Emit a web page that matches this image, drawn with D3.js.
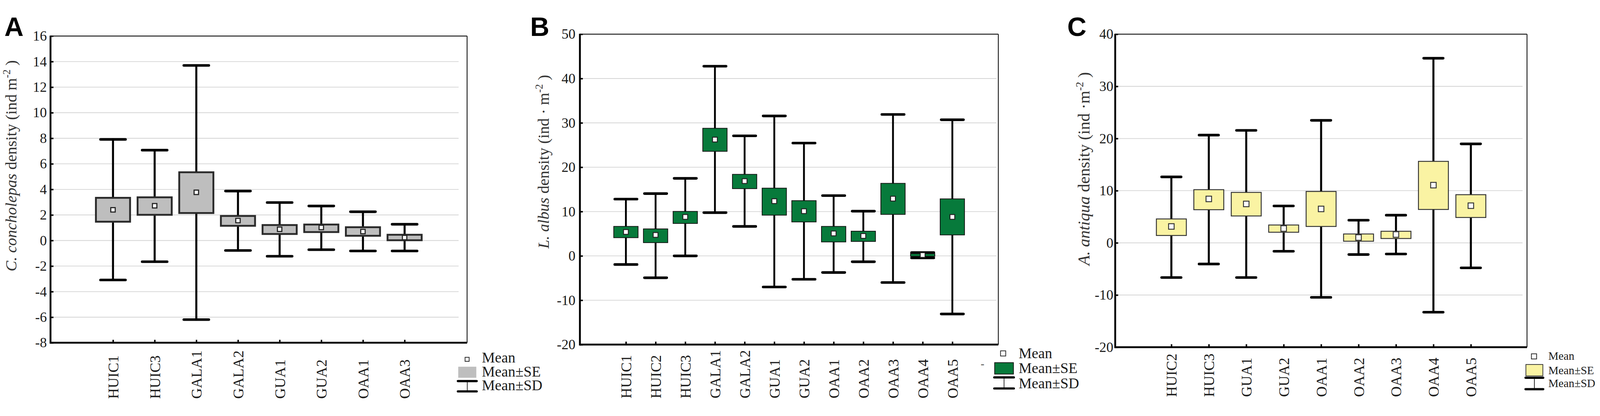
<!DOCTYPE html>
<html>
<head>
<meta charset="utf-8">
<script src="https://cdn.jsdelivr.net/npm/d3@7"></script>
<style>
  html, body { margin: 0; padding: 0; background: #fff; overflow: hidden; width: 100%; height: 100%; }
  svg { display: block; width: 100vw; height: 100vh; }
  text { font-family: "Liberation Serif", "Times New Roman", serif; }
</style>
</head>
<body>
<svg id="chart" viewBox="0 0 4340 1065" preserveAspectRatio="xMidYMid meet"></svg>
<script>
// panel A - C. concholepas
const catsA = ['HUIC1', 'HUIC3', 'GALA1', 'GALA2', 'GUA1', 'GUA2', 'OAA1', 'OAA3']
const meanA = [2.40, 2.72, 3.77, 1.56, 0.88, 1.02, 0.70, 0.23]
const seLoA = [1.47, 2.01, 2.15, 1.15, 0.51, 0.66, 0.37, 0.02]
const seHiA = [3.34, 3.38, 5.34, 1.92, 1.21, 1.25, 1.04, 0.45]
const sdLoA = [-3.09, -1.66, -6.19, -0.78, -1.23, -0.72, -0.82, -0.82]
const sdHiA = [7.91, 7.07, 13.70, 3.87, 2.97, 2.70, 2.25, 1.27]
const ticksA = [-8, -6, -4, -2, 0, 2, 4, 6, 8, 10, 12, 14, 16]

// panel B - L. albus
const catsB = ['HUIC1', 'HUIC2', 'HUIC3', 'GALA1', 'GALA2', 'GUA1', 'GUA2', 'OAA1', 'OAA2', 'OAA3', 'OAA4', 'OAA5']
const meanB = [5.40, 4.73, 8.79, 26.23, 16.87, 12.35, 10.09, 5.07, 4.50, 12.91, 0.20, 8.79]
const seLoB = [4.11, 2.99, 7.32, 23.58, 15.17, 9.19, 7.66, 3.15, 3.26, 9.36, -0.10, 4.73]
const seHiB = [6.65, 6.09, 10.03, 28.78, 18.39, 15.28, 12.46, 6.65, 5.57, 16.36, 0.50, 12.86]
const sdLoB = [-1.94, -4.93, 0.00, 9.76, 6.65, -7.02, -5.27, -3.74, -1.32, -6.00, -0.45, -13.10]
const sdHiB = [12.80, 14.05, 17.49, 42.78, 27.08, 31.56, 25.45, 13.60, 10.09, 31.90, 0.75, 30.70]
const ticksB = [-20, -10, 0, 10, 20, 30, 40, 50]

// panel C - A. antiqua
const catsC = ['HUIC2', 'HUIC3', 'GUA1', 'GUA2', 'OAA1', 'OAA2', 'OAA3', 'OAA4', 'OAA5']
const meanC = [3.14, 8.42, 7.46, 2.75, 6.50, 1.02, 1.60, 11.06, 7.12]
const seLoC = [1.41, 6.35, 5.15, 2.03, 3.14, 0.31, 0.83, 6.40, 4.86]
const seHiC = [4.58, 10.19, 9.67, 3.42, 9.85, 1.70, 2.22, 15.62, 9.23]
const sdLoC = [-6.65, -4.06, -6.65, -1.62, -10.45, -2.24, -2.14, -13.30, -4.80]
const sdHiC = [12.64, 20.65, 21.56, 7.07, 23.48, 4.34, 5.30, 35.39, 18.97]
const ticksC = [-20, -10, 0, 10, 20, 30, 40]

const legendLabels = ['Mean', 'Mean±SE', 'Mean±SD']

const svg = d3.select('#chart')

drawPanel({
  letter: 'A', letterX: 12, letterY: 66,
  cats: catsA, mean: meanA, seLo: seLoA, seHi: seHiA, sdLo: sdLoA, sdHi: sdHiA, ticks: ticksA,
  left: 137, right: 1267, top: 66, bottom: 898, pad: 1.5, gridEnd: 23, tickPad: 10,
  boxW: 0.82, capW: 0.6, meanSize: 12, whisker: 5.5, capH: 7,
  fill: '#bebebe', boxStroke: '#2a2a2a', boxStrokeW: 5, meanStroke: '#222', meanStrokeW: 3,
  labelBottom: 1050,
  yLabel: { x: 30, y: 418, size: 43, species: 'C. concholepas', rest: ' density (ind  m', sup: '-2', end: ' )' },
  legend: { sx: 1267, sy: 943, ss: 11, bx: 1243, by: 963, bw: 49, bh: 30, bStroke: 'none',
    t1: 1002, t2: 1030, tx: 1307, ty: [952, 990, 1027], size: 40 }
})

drawPanel({
  letter: 'B', letterX: 1438, letterY: 66,
  cats: catsB, mean: meanB, seLo: seLoB, seHi: seHiB, sdLo: sdLoB, sdHi: sdHiB, ticks: ticksB,
  left: 1573, right: 2708, top: 61, bottom: 903, pad: 1.55, gridEnd: 5, tickPad: 12,
  boxW: 0.82, capW: 0.75, meanSize: 13, whisker: 5, capH: 7,
  fill: '#077a3b', boxStroke: '#111', boxStrokeW: 2, meanStroke: '#222', meanStrokeW: 2.5,
  labelBottom: 1049,
  yLabel: { x: 1474, y: 407, size: 43, species: 'L. albus', rest: ' density (ind · m', sup: '-2', end: ' )' },
  legend: { sx: 2721, sy: 927, ss: 14, bx: 2698, by: 952, bw: 51, bh: 31, bStroke: '#111',
    t1: 992, t2: 1022, tx: 2763, ty: [940, 980, 1021], size: 40, dash: true }
})

drawPanel({
  letter: 'C', letterX: 2895, letterY: 66,
  cats: catsC, mean: meanC, seLo: seLoC, seHi: seHiC, sdLo: sdLoC, sdHi: sdHiC, ticks: ticksC,
  left: 3025, right: 4142, top: 61, bottom: 910, pad: 1.5, gridEnd: 12, tickPad: 5,
  boxW: 0.8, capW: 0.52, meanSize: 15, whisker: 5.5, capH: 7,
  fill: '#faf3a3', boxStroke: '#333', boxStrokeW: 2.5, meanStroke: '#333', meanStrokeW: 2.5,
  labelBottom: 1045,
  yLabel: { x: 2940, y: 426, size: 45, species: 'A. antiqua', rest: ' density (ind ·m', sup: '-2', end: ' )' },
  legend: { sx: 4161, sy: 935, ss: 14, bx: 4139, by: 957, bw: 46, bh: 31, bStroke: '#333',
    t1: 993, t2: 1024, tx: 4200, ty: [944, 983, 1018], size: 31 }
})

function drawPanel(p) {
  const g = svg.append('g')
  const x = d3.scalePoint().domain(p.cats).range([p.left, p.right]).padding(p.pad)
  const y = d3.scaleLinear().domain([p.ticks[0], p.ticks[p.ticks.length - 1]]).range([p.bottom, p.top])
  const step = x.step()

  // gridlines (not on the top and bottom frame)
  g.append('g')
    .selectAll('line')
    .data(p.ticks.slice(1, -1))
    .join('line')
    .attr('x1', p.left)
    .attr('x2', p.right - p.gridEnd)
    .attr('y1', (d) => y(d))
    .attr('y2', (d) => y(d))
    .attr('stroke', '#d4d4d4')
    .attr('stroke-width', 2)

  // y axis ticks and labels
  const ya = g.append('g')
    .attr('transform', `translate(${p.left},0)`)
    .call(d3.axisLeft(y).tickValues(p.ticks).tickSize(-8).tickPadding(p.tickPad).tickFormat((d) => String(d)))
  ya.select('.domain').remove()
  ya.selectAll('.tick line').attr('stroke', '#000').attr('stroke-width', 4)
  ya.selectAll('.tick text')
    .attr('fill', '#1a1a1a')
    .style('font-size', '38px')
    .style('font-family', '"Liberation Serif", serif')

  // x axis ticks and rotated labels
  const xa = g.append('g')
    .attr('transform', `translate(0,${p.bottom})`)
    .call(d3.axisBottom(x).tickSize(-8))
  xa.select('.domain').remove()
  xa.selectAll('.tick line').attr('stroke', '#000').attr('stroke-width', 4)
  xa.selectAll('.tick text')
    .attr('transform', 'rotate(-90)')
    .attr('x', -(p.labelBottom - p.bottom))
    .attr('y', 0)
    .attr('dy', '0.35em')
    .attr('fill', '#1a1a1a')
    .style('text-anchor', 'start')
    .style('font-size', '40px')
    .style('font-family', '"Liberation Serif", serif')

  // frame
  g.append('line').attr('x1', p.left).attr('x2', p.right).attr('y1', p.top).attr('y2', p.top)
    .attr('stroke', '#222').attr('stroke-width', 2.5)
  g.append('line').attr('x1', p.right).attr('x2', p.right).attr('y1', p.top).attr('y2', p.bottom)
    .attr('stroke', '#222').attr('stroke-width', 2.5)
  g.append('line').attr('x1', p.left).attr('x2', p.left).attr('y1', p.top - 1).attr('y2', p.bottom + 2.5)
    .attr('stroke', '#000').attr('stroke-width', 5)
  g.append('line').attr('x1', p.left).attr('x2', p.right).attr('y1', p.bottom).attr('y2', p.bottom)
    .attr('stroke', '#000').attr('stroke-width', 5)

  const rows = p.cats.map((c, i) => ({
    cat: c, mean: p.mean[i], seLo: p.seLo[i], seHi: p.seHi[i], sdLo: p.sdLo[i], sdHi: p.sdHi[i]
  }))

  const items = g.append('g').selectAll('g').data(rows).join('g')

  items.append('line')
    .attr('x1', (d) => x(d.cat)).attr('x2', (d) => x(d.cat))
    .attr('y1', (d) => y(d.sdHi)).attr('y2', (d) => y(d.sdLo))
    .attr('stroke', '#000').attr('stroke-width', p.whisker)

  ;['sdHi', 'sdLo'].forEach((k) => {
    items.append('line')
      .attr('x1', (d) => x(d.cat) - (step * p.capW) / 2)
      .attr('x2', (d) => x(d.cat) + (step * p.capW) / 2)
      .attr('y1', (d) => y(d[k])).attr('y2', (d) => y(d[k]))
      .attr('stroke', '#000').attr('stroke-width', p.capH).attr('stroke-linecap', 'round')
  })

  items.append('rect')
    .attr('x', (d) => x(d.cat) - (step * p.boxW) / 2)
    .attr('width', step * p.boxW)
    .attr('y', (d) => y(d.seHi))
    .attr('height', (d) => y(d.seLo) - y(d.seHi))
    .attr('fill', p.fill)
    .attr('stroke', p.boxStroke)
    .attr('stroke-width', p.boxStrokeW)

  items.append('rect')
    .attr('x', (d) => x(d.cat) - p.meanSize / 2)
    .attr('y', (d) => y(d.mean) - p.meanSize / 2)
    .attr('width', p.meanSize).attr('height', p.meanSize)
    .attr('fill', '#fff')
    .attr('stroke', p.meanStroke)
    .attr('stroke-width', p.meanStrokeW)

  // panel letter
  g.append('text')
    .attr('x', p.letterX).attr('y', p.letterY)
    .style('font-family', '"Liberation Sans", Arial, sans-serif')
    .style('font-weight', 'bold')
    .style('font-size', '72px')
    .attr('fill', '#000')
    .text(p.letter)

  // y label
  const yl = g.append('text')
    .attr('transform', `translate(${p.yLabel.x + p.yLabel.size * 0.33},${p.yLabel.y}) rotate(-90)`)
    .attr('text-anchor', 'middle')
    .attr('fill', '#333')
    .style('font-size', p.yLabel.size + 'px')
  yl.append('tspan').style('font-style', 'italic').text(p.yLabel.species)
  yl.append('tspan').text(p.yLabel.rest)
  yl.append('tspan').attr('dy', -p.yLabel.size * 0.38).style('font-size', p.yLabel.size * 0.65 + 'px').text(p.yLabel.sup)
  yl.append('tspan').attr('dy', p.yLabel.size * 0.38).text(p.yLabel.end)

  // legend
  const L = p.legend
  const lg = g.append('g')
  lg.append('rect')
    .attr('x', L.sx - L.ss / 2).attr('y', L.sy - L.ss / 2)
    .attr('width', L.ss).attr('height', L.ss)
    .attr('fill', '#fff').attr('stroke', '#222').attr('stroke-width', 2)
  lg.append('rect')
    .attr('x', L.bx).attr('y', L.by).attr('width', L.bw).attr('height', L.bh)
    .attr('fill', p.fill).attr('stroke', L.bStroke).attr('stroke-width', 2)
  const cx = L.bx + L.bw / 2
  lg.append('line').attr('x1', cx).attr('x2', cx).attr('y1', L.t1).attr('y2', L.t2)
    .attr('stroke', '#222').attr('stroke-width', 2)
  ;[L.t1, L.t2].forEach((ty) => {
    lg.append('line')
      .attr('x1', L.bx - 1).attr('x2', L.bx + L.bw + 1)
      .attr('y1', ty).attr('y2', ty)
      .attr('stroke', '#000').attr('stroke-width', 6).attr('stroke-linecap', 'round')
  })
  lg.selectAll('text.leg')
    .data(legendLabels)
    .join('text')
    .attr('class', 'leg')
    .attr('x', L.tx)
    .attr('y', (d, i) => L.ty[i])
    .attr('fill', '#1a1a1a')
    .style('font-size', L.size + 'px')
    .text((d) => d)
  if (L.dash) {
    lg.append('text').attr('x', L.bx - 38).attr('y', L.by + 12)
      .attr('fill', '#444').style('font-size', '30px').text('-')
  }
}
</script>
</body>
</html>
